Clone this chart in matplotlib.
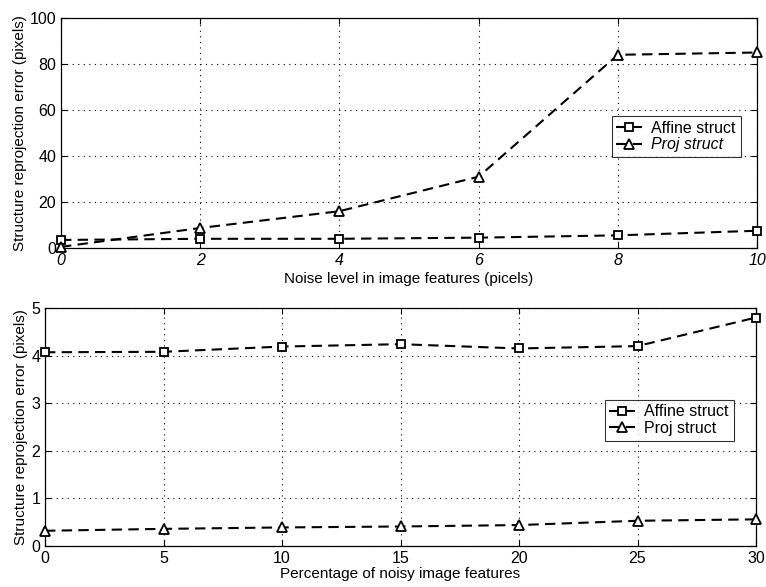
import matplotlib
matplotlib.use("Agg")
import matplotlib.pyplot as plt

plt.rcParams['font.family'] = ['Liberation Sans', 'DejaVu Sans']

# Noise level experiment
noise_levels = [0, 2, 4, 6, 8, 10]
noise_affine = [3.5, 4.0, 4.0, 4.5, 5.5, 7.5]
noise_proj = [0.5, 8.7, 16.0, 31.0, 84.0, 85.0]

# Outlier percentage experiment
pct_noisy = [0, 5, 10, 15, 20, 25, 30]
pct_affine = [4.07, 4.08, 4.19, 4.24, 4.15, 4.20, 4.80]
pct_proj = [0.32, 0.36, 0.39, 0.41, 0.44, 0.53, 0.56]

fig = plt.figure(figsize=(7.66, 5.87), dpi=100)
W, H = 766, 587

def add_ax(l, t, r, b):
    return fig.add_axes([l / W, 1 - b / H, (r - l) / W, (b - t) / H])

ax1 = add_ax(61, 18, 757, 248)
ax2 = add_ax(45, 308, 756, 546)

line_kw = dict(color='black', linestyle=(0, (5, 3)), linewidth=1.5,
               markerfacecolor='white', markeredgecolor='black',
               markeredgewidth=1.3, clip_on=False, zorder=3)

def style(ax):
    ax.grid(True, color='black', linestyle=(0, (1, 4)), linewidth=0.8)
    ax.tick_params(direction='in', length=4, labelsize=11.5, width=0.8,
                   top=True, right=True)
    for s in ax.spines.values():
        s.set_linewidth(0.9)

ax1.plot(noise_levels, noise_affine, marker='s', markersize=6,
         label='Affine struct', **line_kw)
ax1.plot(noise_levels, noise_proj, marker='^', markersize=7,
         label='Proj struct', **line_kw)
ax1.set_xlim(0, 10)
ax1.set_ylim(0, 100)
ax1.set_xticks(noise_levels)
ax1.set_yticks([0, 20, 40, 60, 80, 100])
style(ax1)
for lbl in ax1.get_xticklabels():
    lbl.set_fontstyle('italic')
ax1.set_xlabel('Noise level in image features (picels)', fontsize=11, labelpad=3)
ax1.set_ylabel('Structure reprojection error (pixels)', fontsize=11, labelpad=2)
leg1 = ax1.legend(loc='upper left', bbox_to_anchor=(0.791, 0.575), fontsize=11.5,
                  frameon=True, fancybox=False, edgecolor='black',
                  borderpad=0.3, handlelength=1.6, handletextpad=0.6,
                  labelspacing=0.1, borderaxespad=0)
leg1.get_frame().set_linewidth(0.8)
leg1.get_texts()[1].set_fontstyle('italic')

ax2.plot(pct_noisy, pct_affine, marker='s', markersize=6,
         label='Affine struct', **line_kw)
ax2.plot(pct_noisy, pct_proj, marker='^', markersize=7,
         label='Proj struct', **line_kw)
ax2.set_xlim(0, 30)
ax2.set_ylim(0, 5)
ax2.set_xticks(pct_noisy)
ax2.set_yticks([0, 1, 2, 3, 4, 5])
style(ax2)
ax2.set_xlabel('Percentage of noisy image features', fontsize=11, labelpad=1)
ax2.set_ylabel('Structure reprojection error (pixels)', fontsize=11, labelpad=2)
leg2 = ax2.legend(loc='upper left', bbox_to_anchor=(0.787, 0.615), fontsize=11.5,
                  frameon=True, fancybox=False, edgecolor='black',
                  borderpad=0.3, handlelength=1.6, handletextpad=0.6,
                  labelspacing=0.1, borderaxespad=0)
leg2.get_frame().set_linewidth(0.8)

fig.savefig('out.png', dpi=100)
